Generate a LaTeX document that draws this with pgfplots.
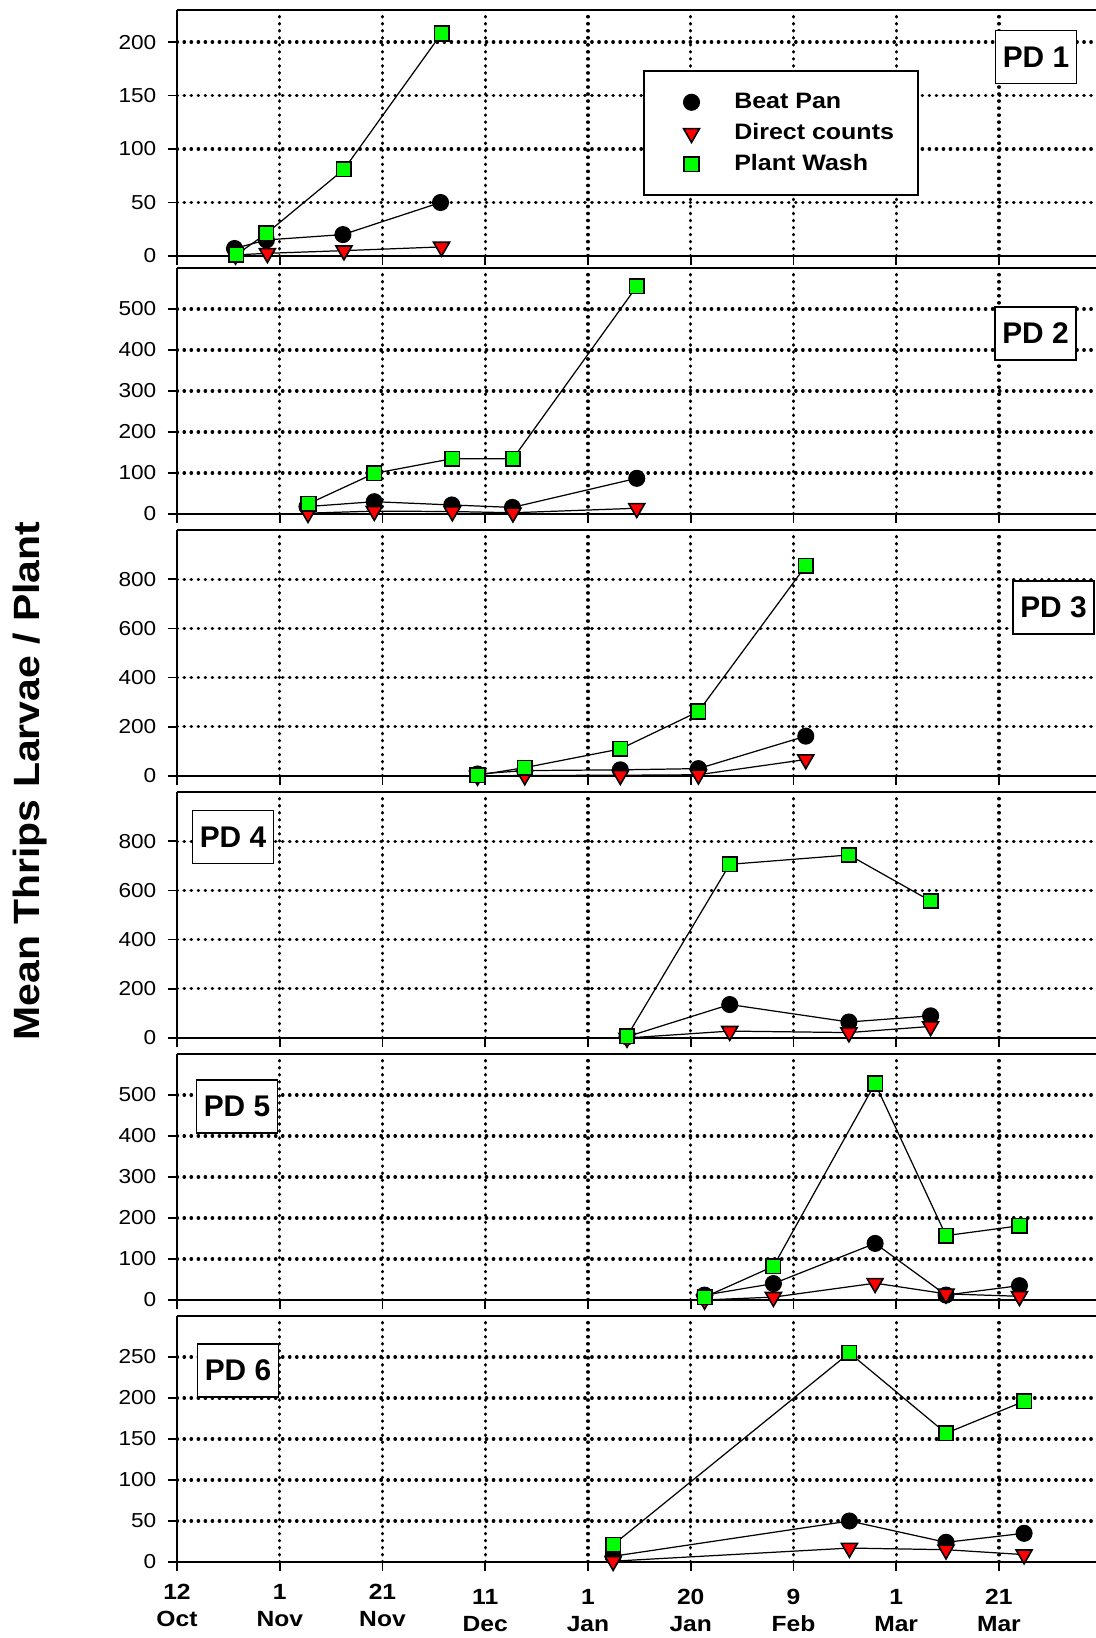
\documentclass[border=0pt]{standalone}
\usepackage{pgfplots}
\pgfplotsset{compat=1.18}
\usepackage{fontspec}
\setmainfont{Liberation Sans}
\newfontfamily\wide[FakeStretch=1.12]{Liberation Sans}
\definecolor{pwgreen}{RGB}{0,255,0}
\definecolor{dcred}{RGB}{255,0,0}

% one panel per planting date, x = days after 12 Oct
\pgfplotsset{
  panel/.style={
    scale only axis, width=183.8mm, height=49.2mm,
    xmin=0, xmax=178.9, ymin=0,
    axis x line*=box, axis y line*=left,
    xtick={20,40,...,160}, xticklabels={},
    extra x ticks={0}, extra x tick labels={},
    extra y ticks={0},
    extra tick style={grid=none},
    xtick pos=left, ytick pos=left,
    tick align=outside, major tick length=1.9mm,
    tick style={black, line width=1pt},
    axis line style={black, line width=1.1pt},
    grid=major,
    major grid style={black, line width=1.8pt, dash pattern=on 0.3pt off 3.7pt, line cap=round},
    /pgf/number format/assume math mode=true,
    yticklabel style={font=\wide\fontsize{11.5}{13}\selectfont, xshift=-1mm},
    clip=false,
    anchor=south west,
  },
  bp/.style={black, line width=0.7pt, mark=*, mark size=1.6mm,
    mark options={fill=black, draw=black, line width=0.6pt}},
  dc/.style={black, line width=0.7pt, mark=triangle*, mark size=1.85mm,
    mark options={fill=dcred, draw=black, rotate=180, line width=0.9pt}},
  pw/.style={black, line width=0.7pt, mark=square*, mark size=1.45mm,
    mark options={fill=pwgreen, draw=black, line width=0.9pt}},
}
\tikzset{
  pdbox/.style={draw=black, fill=white, line width=1.1pt, inner sep=0pt,
    minimum width=16.2mm, minimum height=10.6mm,
    font=\bfseries\fontsize{17}{20}\selectfont},
}

\begin{document}
\begin{tikzpicture}
\useasboundingbox (0,0) rectangle (219.2mm,327.6mm);
\clip (0,0) rectangle (219.2mm,327.6mm);

% PD 1
\begin{axis}[panel, at={(35.4mm,276.4mm)}, ymax=230, ytick={50,100,...,200},
    legend style={at={(0.507,0.756)}, anchor=north west, draw=black, line width=1.1pt, fill=white,
      inner xsep=4.4mm, inner ysep=3.8mm, row sep=3.6pt,
      font=\wide\bfseries\fontsize{12.7}{14}\selectfont,
      nodes={inner sep=1pt, text height=9.5pt, text depth=2.5pt},
      /tikz/every odd column/.append style={column sep=6.6mm}},
    legend cell align=left,
    legend image code/.code={\path (-5mm,0mm); \draw[#1, only marks] plot coordinates {(0mm,0mm)};},
  ]
  \addplot[bp] coordinates {(11.2,7) (17.4,15) (32.3,20) (51.3,50)};
  \addplot[dc] coordinates {(11.4,1) (17.6,2.5) (32.5,5) (51.5,8.5)};
  \addplot[pw] coordinates {(11.5,1) (17.4,21) (32.5,81) (51.5,208)};
  \legend{Beat Pan, Direct counts, Plant Wash}
\end{axis}

% PD 2
\begin{axis}[panel, at={(35.4mm,224.8mm)}, ymax=600, ytick={100,200,...,500}]
  \addplot[bp] coordinates {(25.3,18) (38.4,30) (53.5,22) (65.3,16) (89.5,87)};
  \addplot[dc] coordinates {(25.5,2) (38.4,7) (53.6,6) (65.4,3) (89.5,14)};
  \addplot[pw] coordinates {(25.6,25) (38.4,99) (53.6,135) (65.4,135) (89.5,555)};
\end{axis}

% PD 3
\begin{axis}[panel, at={(35.4mm,172.4mm)}, ymax=1000, ytick={200,400,...,800}]
  \addplot[bp] coordinates {(58.5,8) (67.7,22) (86.3,25) (101.5,30) (122.4,162)};
  \addplot[dc] coordinates {(58.5,0) (67.7,2) (86.3,3) (101.5,5) (122.4,67)};
  \addplot[pw] coordinates {(58.5,3) (67.7,34) (86.3,110) (101.5,262) (122.4,854)};
\end{axis}

% PD 4
\begin{axis}[panel, at={(35.4mm,120.0mm)}, ymax=1000, ytick={200,400,...,800}]
  \addplot[bp] coordinates {(87.6,5) (107.6,136) (130.8,65) (146.7,90)};
  \addplot[dc] coordinates {(87.6,0) (107.6,28) (130.8,22) (146.7,47)};
  \addplot[pw] coordinates {(87.6,7) (107.6,706) (130.8,744) (146.7,557)};
\end{axis}

% PD 5
\begin{axis}[panel, at={(35.4mm,67.6mm)}, ymax=600, ytick={100,200,...,500}]
  \addplot[bp] coordinates {(102.7,12) (116.1,40) (135.9,138) (149.7,12) (164,35)};
  \addplot[dc] coordinates {(102.7,0) (116.1,7) (135.9,41) (149.7,15) (164,9)};
  \addplot[pw] coordinates {(102.7,7) (116.1,82) (135.9,528) (149.7,157) (164,181)};
\end{axis}

% PD 6
\begin{axis}[panel, at={(35.4mm,15.2mm)}, ymax=300, ytick={50,100,...,250},
    xticklabels={{1\\Nov},{21\\Nov},
      {\rule{0pt}{11.8pt}11\\Dec},{\rule{0pt}{11.8pt}1\\Jan},{\rule{0pt}{11.8pt}20\\Jan},
      {\rule{0pt}{11.8pt}9\\Feb},{\rule{0pt}{11.8pt}1\\Mar},{\rule{0pt}{11.8pt}21\\Mar}},
    extra x tick labels={{12\\Oct}},
    xticklabel style={font=\wide\bfseries\fontsize{12.5}{15.3}\selectfont, align=center, yshift=-1.3mm},
  ]
  \addplot[bp] coordinates {(84.9,7) (130.9,50) (149.7,24) (164.9,35)};
  \addplot[dc] coordinates {(84.9,1) (130.9,17) (149.7,15) (164.9,9)};
  \addplot[pw] coordinates {(84.9,21) (130.9,255) (149.7,157) (164.9,196)};
\end{axis}

\node[pdbox] at (207.2mm,316.2mm) {PD 1};
\node[pdbox] at (207.1mm,260.9mm) {PD 2};
\node[pdbox] at (210.7mm,206.1mm) {PD 3};
\node[pdbox] at (46.6mm,160.2mm) {PD 4};
\node[pdbox] at (47.4mm,106.3mm) {PD 5};
\node[pdbox] at (47.6mm,53.5mm) {PD 6};

\node[rotate=90, font=\wide\bfseries\fontsize{20.8}{24}\selectfont] at (6mm,171.4mm) {Mean Thrips Larvae / Plant};
\end{tikzpicture}
\end{document}
